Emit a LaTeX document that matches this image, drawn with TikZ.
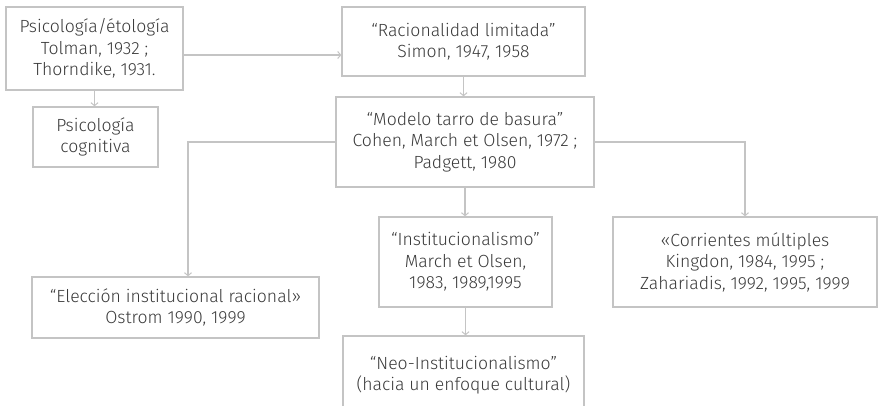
\documentclass[tikz,border=0pt]{standalone}
\usepackage{fontspec}
\setmainfont{Fira Sans Light}
\usetikzlibrary{arrows.meta}
\definecolor{txt}{HTML}{3A3A3A}
\definecolor{ln}{HTML}{C4C4C4}
\begin{document}
\begin{tikzpicture}[x=1pt,y=-1pt,
  box/.style={draw=ln,line width=1.3pt,rectangle,align=center,text=txt,inner sep=0pt,
    font=\fontsize{17.6}{21.5}\selectfont},
  arr/.style={draw=ln,line width=1.3pt,-{Straight Barb[length=3pt,width=7pt,line width=1pt]}}]
\useasboundingbox (0,0) rectangle (878,405);
\begin{scope}
\clip (0,0) rectangle (878,405);
\node[box,minimum width=177pt,minimum height=83pt] (b1) at (94.5,48.5) {Psicología/étología\\Tolman, 1932 ;\\Thorndike, 1931.};
\node[box,minimum width=125pt,minimum height=60pt] (b2) at (95.5,137) {Psicología\\cognitiva};
\node[box,minimum width=243pt,minimum height=69pt] (b3) at (463.5,41.5) {“Racionalidad limitada”\\Simon, 1947, 1958};
\node[box,minimum width=258pt,minimum height=90pt] (b4) at (465,142) {“Modelo tarro de basura”\\Cohen, March et Olsen, 1972 ;\\Padgett, 1980};
\node[box,minimum width=287pt,minimum height=61pt] (b5) at (175.5,307.5) {“Elección institucional racional»\\Ostrom 1990, 1999};
\node[box,minimum width=173pt,minimum height=90pt] (b6) at (465.5,262) {“Institucionalismo”\\March et Olsen,\\1983, 1989,1995};
\node[box,minimum width=241pt,minimum height=78pt] (b7) at (463.5,375) {“Neo-Institucionalismo”\\(hacia un enfoque cultural)};
\node[box,minimum width=264pt,minimum height=90pt] (b8) at (745,262) {«Corrientes múltiples\\Kingdon, 1984, 1995 ;\\Zahariadis, 1992, 1995, 1999};
\draw[arr] (b1.south) -- (b1.south |- b2.north);
\draw[arr] ([yshift=-6.5pt]b1.east) -- ([yshift=-6.5pt]b1.east -| b3.west);
\draw[arr] (b3.south) -- (b3.south |- b4.north);
\draw[arr] (b4.west) -| ([xshift=12.5pt]b5.north);
\draw[arr] (b4.east) -| (b8.north);
\draw[arr] (b4.south) -- (b4.south |- b6.north);
\draw[arr] (b6.south) -- (b6.south |- b7.north);
\end{scope}
\end{tikzpicture}
\end{document}
